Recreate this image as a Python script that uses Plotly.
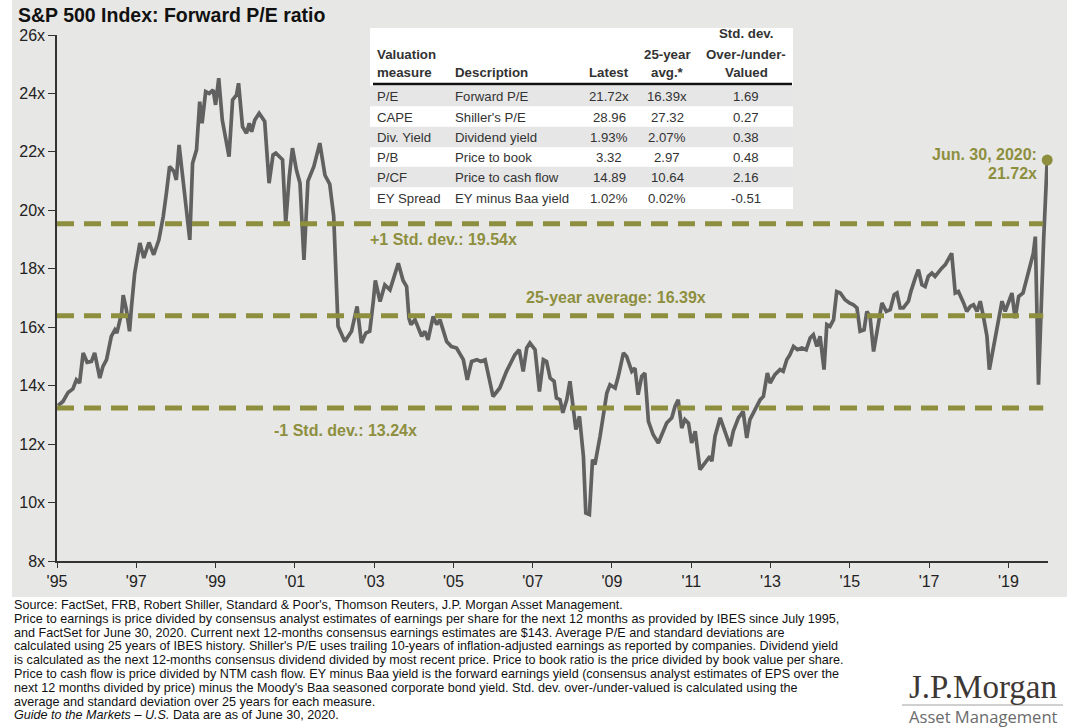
import plotly.graph_objects as go

# ---------------- data ----------------
years = [1995.03, 1995.15, 1995.28, 1995.40, 1995.49, 1995.57, 1995.66, 1995.76, 1995.87, 1995.95,
         1996.08, 1996.16, 1996.25, 1996.37, 1996.46, 1996.51, 1996.63, 1996.67, 1996.75, 1996.83, 1996.88, 1996.96,
         1997.09, 1997.19, 1997.32, 1997.44, 1997.57, 1997.68, 1997.76, 1997.84, 1997.95,
         1998.01, 1998.08, 1998.17, 1998.25, 1998.35, 1998.42, 1998.52, 1998.60, 1998.66, 1998.75, 1998.84, 1998.94,
         1999.00, 1999.08, 1999.17, 1999.34, 1999.43, 1999.53, 1999.58, 1999.68, 1999.78, 1999.85, 1999.91, 1999.99,
         2000.10, 2000.24, 2000.35, 2000.45, 2000.52, 2000.69, 2000.77, 2000.86, 2000.94,
         2001.04, 2001.13, 2001.23, 2001.33, 2001.48, 2001.63, 2001.76, 2001.88, 2001.98,
         2002.05, 2002.09, 2002.26, 2002.43, 2002.57, 2002.68, 2002.79, 2002.89, 2002.98,
         2003.03, 2003.15, 2003.27, 2003.40, 2003.61, 2003.73, 2003.82, 2003.88, 2003.93,
         2004.03, 2004.20, 2004.28, 2004.36, 2004.49, 2004.58, 2004.66, 2004.83, 2004.95,
         2005.08, 2005.25, 2005.35, 2005.46, 2005.59, 2005.69, 2005.80,
         2006.00, 2006.17, 2006.34, 2006.55, 2006.66, 2006.76, 2006.85, 2006.93,
         2007.06, 2007.17, 2007.27, 2007.35, 2007.44, 2007.54, 2007.60, 2007.69, 2007.76, 2007.86, 2007.94,
         2008.01, 2008.09, 2008.18, 2008.28, 2008.34, 2008.43, 2008.51, 2008.57, 2008.70, 2008.78, 2008.87, 2008.95,
         2009.08, 2009.16, 2009.29, 2009.37, 2009.50, 2009.58, 2009.66, 2009.75, 2009.83, 2009.92,
         2010.04, 2010.17, 2010.30, 2010.38, 2010.51, 2010.59, 2010.67, 2010.76, 2010.84, 2010.93,
         2011.01, 2011.10, 2011.22, 2011.35, 2011.47, 2011.52, 2011.60, 2011.73, 2011.85, 2011.98,
         2012.06, 2012.19, 2012.31, 2012.40, 2012.48, 2012.61, 2012.74, 2012.82, 2012.92, 2012.99,
         2013.11, 2013.24, 2013.32, 2013.41, 2013.49, 2013.58, 2013.68, 2013.79, 2013.90,
         2014.00, 2014.08, 2014.17, 2014.25, 2014.35, 2014.42, 2014.50, 2014.59, 2014.67, 2014.76, 2014.88, 2014.99,
         2015.09, 2015.18, 2015.26, 2015.36, 2015.43, 2015.51, 2015.60, 2015.70, 2015.81, 2015.92,
         2016.02, 2016.12, 2016.19, 2016.27, 2016.35, 2016.48, 2016.54, 2016.65, 2016.73, 2016.82, 2016.90, 2016.98,
         2017.07, 2017.15, 2017.24, 2017.32, 2017.41, 2017.49, 2017.57, 2017.66, 2017.74, 2017.87, 2017.95,
         2018.04, 2018.12, 2018.21, 2018.29, 2018.37, 2018.46, 2018.52, 2018.62, 2018.73, 2018.84, 2018.92,
         2019.00, 2019.09, 2019.17, 2019.26, 2019.37, 2019.47, 2019.55, 2019.63, 2019.68, 2019.76, 2019.89, 2019.98]

forward_pe = [13.32, 13.46, 13.77, 13.89, 14.20, 14.09, 15.12, 14.80, 14.83, 15.12,
              14.26, 14.66, 14.89, 15.69, 15.91, 15.80, 16.49, 17.10, 16.60, 15.86, 16.71, 17.85,
              18.88, 18.37, 18.90, 18.48, 18.99, 19.79, 20.59, 21.50, 21.33,
              21.04, 22.24, 21.16, 20.02, 18.99, 21.61, 22.07, 23.72, 22.98, 24.06, 24.00, 24.12,
              23.61, 24.52, 23.09, 21.84, 23.78, 23.95, 24.35, 22.86, 22.64, 22.98, 22.69, 23.09,
              23.32, 23.04, 20.93, 21.90, 21.96, 21.73, 19.56, 21.16, 22.13,
              21.38, 20.93, 18.30, 21.00, 21.50, 22.30, 21.20, 20.90, 19.80,
              16.94, 16.03, 15.51, 15.86, 16.71, 15.46, 15.80, 15.86, 16.90,
              17.60, 16.88, 17.45, 17.28, 18.19, 17.60, 17.39, 16.30, 16.09,
              16.26, 15.69, 15.86, 15.57, 16.37, 16.09, 16.26, 15.51, 15.34,
              15.29, 14.89, 14.20, 14.83, 14.89, 14.83, 14.89,
              13.63, 13.92, 14.49, 15.06, 15.23, 14.49, 15.29, 15.46,
              15.23, 13.80, 14.89, 14.83, 14.26, 14.15, 13.58, 13.52, 13.07, 13.52, 14.15,
              13.29, 12.50, 12.95, 11.58, 9.64, 9.59, 11.47, 11.30, 12.27, 12.95, 13.75, 14.03,
              13.92, 14.32, 15.12, 15.00, 14.49, 14.60, 13.69, 14.32, 14.43, 12.78,
              12.32, 12.04, 12.50, 12.72, 12.90, 13.29, 13.52, 12.55, 12.84, 12.72,
              12.04, 12.44, 11.13, 11.36, 11.58, 11.41, 12.27, 12.90, 12.44, 11.93,
              12.44, 12.90, 13.12, 12.21, 12.84, 13.18, 13.52, 13.63, 14.43, 14.09,
              14.38, 14.55, 14.49, 14.89, 15.06, 15.34, 15.23, 15.29, 15.23,
              15.63, 15.74, 15.34, 15.69, 14.55, 16.09, 16.03, 16.26, 17.22, 17.17, 16.94, 16.83,
              16.77, 16.66, 15.86, 15.91, 16.54, 16.37, 15.17, 15.91, 16.83, 16.54,
              16.60, 17.11, 17.17, 16.66, 16.66, 16.89, 17.22, 17.68, 17.97, 17.45, 17.39, 17.74,
              17.85, 17.74, 17.91, 18.02, 18.14, 18.36, 18.53, 17.17, 17.22, 16.83, 16.54,
              16.71, 16.77, 16.54, 16.89, 16.37, 15.69, 14.55, 15.34, 16.14, 16.89, 16.54,
              16.83, 17.17, 16.31, 17.05, 17.17, 17.74, 18.08, 18.53, 19.10, 14.03, 19.00, 21.72]

avg_25y = 16.39
plus_1sd = 19.54
minus_1sd = 13.24
band_start, band_end = 1995.0, 2019.88

x_tick_vals = [1995, 1997, 1999, 2001, 2003, 2005, 2007, 2009, 2011, 2013, 2015, 2017, 2019]
x_tick_text = ["'95", "'97", "'99", "'01", "'03", "'05", "'07", "'09", "'11", "'13", "'15", "'17", "'19"]
y_tick_vals = [8, 10, 12, 14, 16, 18, 20, 22, 24, 26]
y_tick_text = ["8x", "10x", "12x", "14x", "16x", "18x", "20x", "22x", "24x", "26x"]

tbl_header_1 = ["", "", "", "", "Std. dev."]
tbl_header_2 = ["Valuation", "", "", "25-year", "Over-/under-"]
tbl_header_3 = ["measure", "Description", "Latest", "avg.*", "Valued"]
tbl_measure = ["P/E", "CAPE", "Div. Yield", "P/B", "P/CF", "EY Spread"]
tbl_desc = ["Forward P/E", "Shiller's P/E", "Dividend yield", "Price to book", "Price to cash flow", "EY minus Baa yield"]
tbl_latest = ["21.72x", "28.96", "1.93%", "3.32", "14.89", "1.02%"]
tbl_avg = ["16.39x", "27.32", "2.07%", "2.97", "10.64", "0.02%"]
tbl_std = ["1.69", "0.27", "0.38", "0.48", "2.16", "-0.51"]

footnotes = [
    "Source: FactSet, FRB, Robert Shiller, Standard & Poor's, Thomson Reuters, J.P. Morgan Asset Management.",
    "Price to earnings is price divided by consensus analyst estimates of earnings per share for the next 12 months as provided by IBES since July 1995,",
    "and FactSet for June 30, 2020. Current next 12-months consensus earnings estimates are $143. Average P/E and standard deviations are",
    "calculated using 25 years of IBES history. Shiller's P/E uses trailing 10-years of inflation-adjusted earnings as reported by companies. Dividend yield",
    "is calculated as the next 12-months consensus dividend divided by most recent price. Price to book ratio is the price divided by book value per share.",
    "Price to cash flow is price divided by NTM cash flow. EY minus Baa yield is the forward earnings yield (consensus analyst estimates of EPS over the",
    "next 12 months divided by price) minus the Moody's Baa seasoned corporate bond yield. Std. dev. over-/under-valued is calculated using the",
    "average and standard deviation over 25 years for each measure.",
    "<i>Guide to the Markets – U.S.</i> Data are as of June 30, 2020.",
]

# ---------------- layout helpers (pixel -> paper) ----------------
W, H = 1080, 728
ML, MR, MT, MB = 57, 32, 35, 167
PW, PH = W - ML - MR, H - MT - MB


def px(x):
    return (x - ML) / PW


def py(y):
    return (H - MB - y) / PH


FONT = "Arial, 'Liberation Sans', sans-serif"
OLIVE = "#8d8f3e"
LINE_GRAY = "#616161"
BG_GRAY = "#e7e7e5"
TXT = "#222222"

fig = go.Figure()

fig.add_trace(go.Scatter(x=years, y=forward_pe, mode="lines",
                         line=dict(color=LINE_GRAY, width=3.7), hoverinfo="skip"))
for lvl in (plus_1sd, avg_25y, minus_1sd):
    fig.add_trace(go.Scatter(x=[band_start, band_end], y=[lvl, lvl], mode="lines",
                             line=dict(color=OLIVE, width=5, dash="17px,10px"), hoverinfo="skip"))
fig.add_trace(go.Scatter(x=[years[-1]], y=[forward_pe[-1]], mode="markers",
                         marker=dict(color=OLIVE, size=11), cliponaxis=False, hoverinfo="skip"))

shapes = []
shapes.append(dict(type="rect", xref="paper", yref="paper", x0=px(12), x1=px(1067), y0=py(597), y1=py(-2),
                   fillcolor=BG_GRAY, line=dict(width=0), layer="below"))
T_X0, T_X1, T_Y0, T_Y1 = 370, 793, 28, 209
shapes.append(dict(type="rect", xref="paper", yref="paper", x0=px(T_X0), x1=px(T_X1), y0=py(T_Y1), y1=py(T_Y0),
                   fillcolor="white", line=dict(width=0), layer="below"))
row_y = [96, 117, 137, 157, 177, 198]
for i, yc in enumerate(row_y):
    if i % 2 == 0:
        shapes.append(dict(type="rect", xref="paper", yref="paper", x0=px(T_X0), x1=px(T_X1),
                           y0=py(yc + 10.2), y1=py(yc - 10.2), fillcolor="#e6e6e6",
                           line=dict(width=0), layer="below"))
shapes.append(dict(type="line", xref="paper", yref="paper", x0=px(373), x1=px(792), y0=py(84), y1=py(84),
                   line=dict(color="#111111", width=2.6), layer="below"))
shapes.append(dict(type="line", xref="paper", yref="paper", x0=px(902), x1=px(1063), y0=py(705), y1=py(705),
                   line=dict(color="#a0a0a0", width=1), layer="below"))

ann = []


def add_text(text, x, y, size, color=TXT, anchor="left", bold=False, family=FONT, yanchor="middle"):
    if bold:
        text = "<b>" + text + "</b>"
    ann.append(dict(text=text, xref="paper", yref="paper", x=px(x), y=py(y), xanchor=anchor,
                    yanchor=yanchor, showarrow=False, font=dict(size=size, color=color, family=family)))


add_text("S&P 500 Index: Forward P/E ratio", 16, 15, 19.5, color="#111111", bold=True)

col_x = [375, 453, 609, 667, 746]
col_anchor = ["left", "left", "center", "center", "center"]
for hdr, yy in ((tbl_header_1, 34), (tbl_header_2, 54), (tbl_header_3, 72)):
    for j, t in enumerate(hdr):
        if t:
            add_text(t, col_x[j], yy, 13.3, color="#333333", anchor=col_anchor[j], bold=True)
cols = [tbl_measure, tbl_desc, tbl_latest, tbl_avg, tbl_std]
for i, yc in enumerate(row_y):
    for j, col in enumerate(cols):
        add_text(col[i], col_x[j], yc, 13.2, color="#333333", anchor=col_anchor[j])

add_text("+1 Std. dev.: %.2fx" % plus_1sd, 368, 239, 16, color=OLIVE, bold=True)
add_text("25-year average: %.2fx" % avg_25y, 524, 297, 16, color=OLIVE, bold=True)
add_text("-1 Std. dev.: %.2fx" % minus_1sd, 272, 430, 16, color=OLIVE, bold=True)
add_text("Jun. 30, 2020:", 1039, 154, 16, color=OLIVE, anchor="right", bold=True)
add_text("%.2fx" % forward_pe[-1], 1039, 173, 16, color=OLIVE, anchor="right", bold=True)

for k, line in enumerate(footnotes):
    add_text(line, 12, 605 + k * 13.8, 12.6, color="#111111")

add_text("J.P.Morgan", 983, 687, 33, color="#3e3834", anchor="center",
         family="'Liberation Serif', 'DejaVu Serif', serif")
add_text("Asset Management", 983, 716, 16.6, color="#6b6b6b", anchor="center",
         family="'Open Sans', 'Noto Sans', sans-serif")

fig.update_layout(
    width=W, height=H, autosize=False,
    margin=dict(l=ML, r=MR, t=MT, b=MB, pad=0),
    paper_bgcolor="white", plot_bgcolor="rgba(0,0,0,0)",
    showlegend=False, hovermode=False,
    shapes=shapes, annotations=ann,
    font=dict(family=FONT, color=TXT),
    xaxis=dict(range=[1995, 2020], tickvals=x_tick_vals, ticktext=x_tick_text, ticks="outside",
               ticklen=5, tickcolor="#333333", showline=True, linecolor="#333333", linewidth=1.5,
               showgrid=False, zeroline=False, tickfont=dict(size=16, color=TXT, family=FONT)),
    yaxis=dict(range=[8, 26], tickvals=y_tick_vals, ticktext=y_tick_text, ticks="outside",
               ticklen=7, tickcolor="#333333", showline=True, linecolor="#333333", linewidth=1.5,
               showgrid=False, zeroline=False, tickfont=dict(size=16, color=TXT, family=FONT)),
)

fig.write_html("out.html", config={"displayModeBar": False},
               post_script="document.body.style.margin='0';document.body.style.padding='0';")
